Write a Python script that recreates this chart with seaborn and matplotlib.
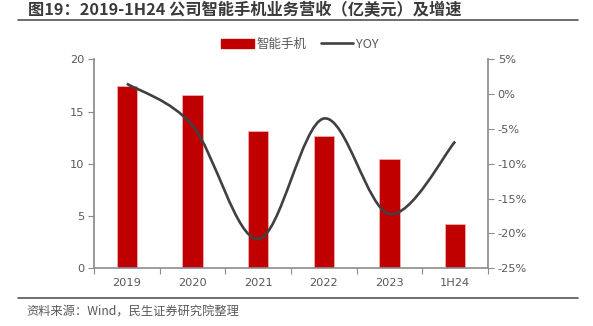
import numpy as np
import pandas as pd
import matplotlib
matplotlib.use("Agg")
import matplotlib.pyplot as plt
import seaborn as sns
from matplotlib.path import Path
from matplotlib.patches import PathPatch, Patch
from matplotlib.lines import Line2D
from matplotlib.ticker import FuncFormatter, MultipleLocator

categories = ["2019", "2020", "2021", "2022", "2023", "1H24"]
revenue = [17.45, 16.55, 13.1, 12.65, 10.5, 4.2]      # 亿美元
yoy = [1.5, -4.5, -20.8, -3.5, -17.2, -6.8]            # %

title = "图19：2019-1H24 公司智能手机业务营收（亿美元）及增速"
source = "资料来源：Wind，民生证券研究院整理"
bar_label = "智能手机"
line_label = "YOY"

sns.set_theme(style="white")
plt.rcParams['font.family'] = ['Noto Sans CJK SC', 'DejaVu Sans']

BAR = "#C00000"
LINE = "#404040"
TXT = "#595959"
AX = "#8C8C8C"
TICKFONT = ['DejaVu Sans', 'Noto Sans CJK SC']

fig = plt.figure(figsize=(5.93, 3.26), dpi=100)
ax = fig.add_axes([94/593, 1-268.3/326, (488-94)/593, (268.3-59.3)/326])

df = pd.DataFrame({"cat": categories, "rev": revenue})
sns.barplot(data=df, x="cat", y="rev", color=BAR, width=0.31, ax=ax,
            saturation=1, edgecolor="#F2B8B8", linewidth=0.5)
ax.set_xlim(-0.5, len(categories) - 0.5)
ax.set_ylim(0, 20)
ax.yaxis.set_major_locator(MultipleLocator(5))
ax.set_xlabel("")
ax.set_ylabel("")

ax2 = ax.twinx()
ax2.set_ylim(-25, 5)
ax2.yaxis.set_major_locator(MultipleLocator(5))
ax2.yaxis.set_major_formatter(FuncFormatter(lambda v, p: f"{v:.0f}%"))

# smoothed line (Excel-style Bezier through data points)
xs = np.arange(len(yoy), dtype=float)
ys = np.array(yoy, dtype=float)
pts = np.column_stack([xs, ys])
n = len(pts)
verts = [tuple(pts[0])]
codes = [Path.MOVETO]
for i in range(n - 1):
    p0 = pts[i - 1] if i > 0 else pts[i]
    p1 = pts[i]
    p2 = pts[i + 1]
    p3 = pts[i + 2] if i + 2 < n else pts[i + 1]
    c1 = p1 + (p2 - p0) / 6.0
    c2 = p2 - (p3 - p1) / 6.0
    verts += [tuple(c1), tuple(c2), tuple(p2)]
    codes += [Path.CURVE4] * 3
ax2.add_patch(PathPatch(Path(verts, codes), fill=False, edgecolor=LINE,
                        linewidth=1.9, capstyle="butt", zorder=3))

for a in (ax, ax2):
    for s in a.spines.values():
        s.set_visible(False)
    a.grid(False)

ax.spines["left"].set_visible(True)
ax.spines["left"].set_color(AX)
ax.spines["bottom"].set_visible(True)
ax.spines["bottom"].set_color(AX)
ax.spines["bottom"].set_linewidth(1.2)
ax2.spines["right"].set_visible(True)
ax2.spines["right"].set_color(AX)

ax.tick_params(axis="y", which="major", length=4, width=0.8, color=AX,
               labelsize=8.2, labelcolor=TXT, pad=3, left=True)
ax.tick_params(axis="x", which="major", length=0, labelsize=8.2,
               labelcolor=TXT, pad=7)
ax.set_xticks(np.arange(-0.5, len(categories) + 0.5, 1.0), minor=True)
ax.tick_params(axis="x", which="minor", length=4, width=0.8, color=AX,
               bottom=True)
ax2.tick_params(axis="y", which="major", length=4, width=0.8, color=AX,
                labelsize=8.2, labelcolor=TXT, pad=3, right=True)
for lab in ax.get_xticklabels() + ax.get_yticklabels() + ax2.get_yticklabels():
    lab.set_family(TICKFONT)

handles = [Patch(facecolor=BAR, edgecolor=BAR),
           Line2D([0], [0], color=LINE, linewidth=1.9)]
leg = fig.legend(handles, [bar_label, line_label], loc="center",
                 bbox_to_anchor=(300/593, 1-44/326), ncol=2, frameon=False,
                 fontsize=9, handlelength=2.6, handletextpad=0.25,
                 columnspacing=1.1)
for t in leg.get_texts():
    t.set_color(TXT)

fig.text(28/593, 1-10.5/326, title, fontsize=11.7, fontweight="bold",
         color="#3A3A3A", va="center", ha="left")
fig.add_artist(Line2D([18/593, 578/593], [1-19.8/326, 1-19.8/326],
                      color="#555555", linewidth=1.2, transform=fig.transFigure))
fig.add_artist(Line2D([18/593, 578/593], [1-297.5/326, 1-297.5/326],
                      color="#555555", linewidth=1.2, transform=fig.transFigure))
fig.text(26.7/593, 1-311.7/326, source, fontsize=8.8, color=TXT,
         va="center", ha="left")

fig.savefig("out.png", dpi=100)
